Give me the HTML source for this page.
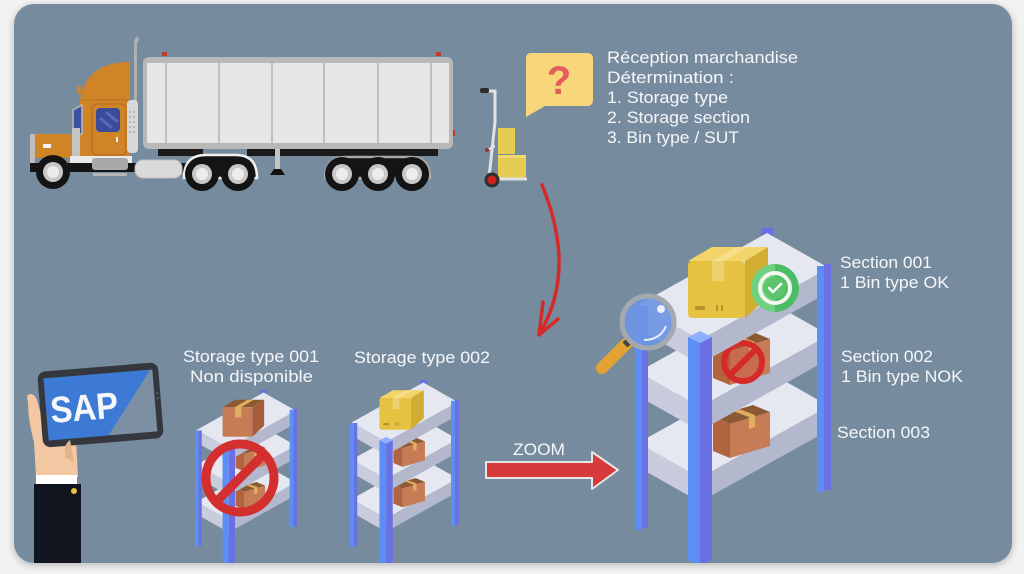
<!DOCTYPE html>
<html><head><meta charset="utf-8"><style>
html,body{margin:0;padding:0;background:#f2f2f2;}
svg{display:block;}
text{font-family:"Liberation Sans",sans-serif;fill:#f5f7f9;}
</style></head><body>
<svg width="1024" height="574" viewBox="0 0 1024 574" xmlns="http://www.w3.org/2000/svg">
<defs>
  <filter id="sh" x="-5%" y="-5%" width="110%" height="110%"><feGaussianBlur stdDeviation="4"/></filter>
  <clipPath id="pc"><rect x="14" y="4" width="998" height="559" rx="20"/></clipPath>
  <!-- shelf levels (big coords) -->
  <g id="s1">
    <polygon points="638,305 700,340 829,268 767,233" fill="#e6e8f1"/>
    <polygon points="638,305 700,340 700,364 638,329" fill="#c9ccdd"/>
    <polygon points="700,340 829,268 829,292 700,364" fill="#b4b8cd"/>
  </g>
  <g id="s2">
    <polygon points="638,372 700,407 829,335 767,300" fill="#e6e8f1"/>
    <polygon points="638,372 700,407 700,431 638,396" fill="#c9ccdd"/>
    <polygon points="700,407 829,335 829,359 700,431" fill="#b4b8cd"/>
  </g>
  <g id="s3">
    <polygon points="638,443 700,478 829,406 767,371" fill="#e6e8f1"/>
    <polygon points="638,443 700,478 700,502 638,467" fill="#c9ccdd"/>
    <polygon points="700,478 829,406 829,430 700,502" fill="#b4b8cd"/>
  </g>
  <g id="backpost"><rect x="761" y="228" width="12" height="12" fill="#6a6fe2"/></g>
  <g id="sideposts">
    <rect x="635" y="306" width="7" height="224" fill="#5b8ff7"/>
    <rect x="642" y="306" width="6" height="222" fill="#6a6fe2"/>
    <rect x="817" y="266" width="7" height="226" fill="#5b8ff7"/>
    <rect x="824" y="264" width="7" height="226" fill="#6a6fe2"/>
  </g>
  <g id="frontpost">
    <polygon points="688,337 700,343 700,566 688,560" fill="#5b8ff7"/>
    <polygon points="700,343 712,337 712,560 700,566" fill="#6a6fe2"/>
    <polygon points="688,337 700,331 712,337 700,343" fill="#8fb0ff"/>
  </g>
  <!-- brown box local 57x53 -->
  <g id="bb">
    <polygon points="0,12 40,0 57,7 17,19" fill="#8b5a34"/>
    <polygon points="0,12 17,19 17,53 0,46" fill="#b0643f"/>
    <polygon points="17,19 57,7 57,41 17,53" fill="#c67c55"/>
    <polygon points="20,6 26,4 42,10 36,12" fill="#e0b060"/>
    <polygon points="36,12 42,10 42,22 36,24" fill="#e0b060"/>
  </g>
  <!-- yellow top box local 80x71 -->
  <g id="yb">
    <polygon points="0,14 24,0 80,0 57,14" fill="#f2d468"/>
    <rect x="0" y="14" width="57" height="57" rx="4" fill="#e6c242"/>
    <polygon points="57,14 80,0 80,50 57,71" fill="#d3ad33"/>
    <polygon points="24,14 36,14 60,0 48,0" fill="#f6df88"/>
    <rect x="24" y="14" width="12" height="20" fill="#edd070"/>
    <rect x="7" y="59" width="10" height="4" fill="#b89228"/>
    <rect x="28" y="58" width="2" height="6" fill="#b89228"/>
    <rect x="33" y="58" width="2" height="6" fill="#b89228"/>
  </g>
  <g id="brtop">
    <polygon points="0,14 24,0 80,0 57,14" fill="#8b5a34"/>
    <rect x="0" y="14" width="57" height="57" rx="3" fill="#c67c55"/>
    <polygon points="57,14 80,0 80,50 57,71" fill="#a85d3c"/>
    <polygon points="24,14 36,14 60,0 48,0" fill="#e0b060"/>
    <rect x="24" y="14" width="12" height="20" fill="#e0b060"/>
  </g>
</defs>

<!-- panel -->
<rect x="14" y="6" width="998" height="559" rx="20" fill="#000" opacity="0.25" filter="url(#sh)"/>
<rect x="14" y="4" width="998" height="559" rx="20" fill="#778b9f"/>

<g clip-path="url(#pc)">
<!-- ===== TRUCK ===== -->
<!-- trailer -->
<rect x="162" y="52" width="5" height="4" fill="#c0392b"/>
<rect x="436" y="52" width="5" height="4" fill="#c0392b"/>
<rect x="453" y="130" width="2" height="6" fill="#c0392b"/>
<rect x="143" y="57" width="310" height="92" rx="6" fill="#b8b8b8"/>
<rect x="147" y="63" width="302" height="80" fill="#e7e7e7"/>
<g stroke="#b3b3b3" stroke-width="1.5">
  <line x1="166" y1="63" x2="166" y2="143"/><line x1="219" y1="63" x2="219" y2="143"/>
  <line x1="272" y1="63" x2="272" y2="143"/><line x1="324" y1="63" x2="324" y2="143"/>
  <line x1="378" y1="63" x2="378" y2="143"/><line x1="431" y1="63" x2="431" y2="143"/>
</g>
<rect x="158" y="149" width="45" height="7" fill="#1a1a1a"/>
<rect x="247" y="149" width="191" height="7" fill="#1a1a1a"/>
<rect x="275" y="149" width="5" height="21" fill="#c4c4c4"/>
<polygon points="270,175 285,175 281,169 274,169" fill="#111"/>
<!-- tractor -->
<path d="M134,150 L134,44 Q134,38 138,36 L139,40 Q137,42 137,46 L137,150 Z" fill="#b0b0b0"/>
<path d="M80,156 L80,100 Q86,62 130,62 L130,156 Z" fill="#d08428"/>
<line x1="80" y1="100" x2="130" y2="100" stroke="#b86f1e" stroke-width="1"/>
<rect x="77" y="86" width="4" height="8" fill="#d08428"/>
<polygon points="73,110 82,105 82,134 73,134" fill="#3c4fa0" stroke="#b8b8b8" stroke-width="1.5"/>
<rect x="92" y="104" width="34" height="51" rx="5" fill="#d08428" stroke="#b06a1c" stroke-width="1"/>
<rect x="96" y="108" width="24" height="24" rx="4" fill="#3c4a9c"/>
<line x1="100" y1="118" x2="112" y2="128" stroke="#5b6ab8" stroke-width="3"/>
<line x1="106" y1="112" x2="118" y2="122" stroke="#5b6ab8" stroke-width="3"/>
<rect x="116" y="137" width="2" height="5" fill="#f0f0f0"/>
<rect x="35" y="134" width="42" height="24" fill="#d08428"/>
<rect x="43" y="144" width="8" height="4" fill="#f3f3f3"/>
<rect x="72" y="128" width="8" height="30" fill="#c4c4c4"/>
<rect x="30" y="134" width="5" height="36" fill="#bdbdbd"/>
<rect x="70" y="156" width="62" height="16" fill="#e9e9e9"/>
<rect x="30" y="163" width="172" height="9" fill="#151515"/>
<rect x="92" y="158" width="36" height="12" rx="3" fill="#a9a9a9"/>
<rect x="93" y="173" width="34" height="3" fill="#b5b5b5"/>
<rect x="127" y="100" width="11" height="53" rx="4" fill="#d8d8d8"/>
<g fill="#9e9e9e">
  <circle cx="130" cy="112" r="0.9"/><circle cx="134" cy="112" r="0.9"/><circle cx="130" cy="117" r="0.9"/><circle cx="134" cy="117" r="0.9"/>
  <circle cx="130" cy="122" r="0.9"/><circle cx="134" cy="122" r="0.9"/><circle cx="130" cy="127" r="0.9"/><circle cx="134" cy="127" r="0.9"/>
  <circle cx="130" cy="132" r="0.9"/><circle cx="134" cy="132" r="0.9"/>
</g>
<rect x="135" y="160" width="47" height="18" rx="8" fill="#dadada" stroke="#bdbdbd" stroke-width="1"/>
<!-- fenders -->
<path d="M184,178 Q184,155 206,155 L236,155 Q257,155 257,178 Z" fill="#151515" stroke="#f0f0f0" stroke-width="2.5"/>
<path d="M325,178 Q325,157 346,157 L410,157 Q430,157 430,178 Z" fill="#151515" stroke="#a8a8a8" stroke-width="2.5"/>
<!-- wheels -->
<g>
  <circle cx="53" cy="172" r="17" fill="#141414"/><circle cx="53" cy="172" r="10" fill="#c8c8c8"/><circle cx="53" cy="172" r="6" fill="#ececec"/>
  <circle cx="202" cy="174" r="17" fill="#141414"/><circle cx="202" cy="174" r="10" fill="#c8c8c8"/><circle cx="202" cy="174" r="6" fill="#ececec"/>
  <circle cx="238" cy="174" r="17" fill="#141414"/><circle cx="238" cy="174" r="10" fill="#c8c8c8"/><circle cx="238" cy="174" r="6" fill="#ececec"/>
  <circle cx="342" cy="174" r="17" fill="#141414"/><circle cx="342" cy="174" r="10" fill="#c8c8c8"/><circle cx="342" cy="174" r="6" fill="#ececec"/>
  <circle cx="378" cy="174" r="17" fill="#141414"/><circle cx="378" cy="174" r="10" fill="#c8c8c8"/><circle cx="378" cy="174" r="6" fill="#ececec"/>
  <circle cx="412" cy="174" r="17" fill="#141414"/><circle cx="412" cy="174" r="10" fill="#c8c8c8"/><circle cx="412" cy="174" r="6" fill="#ececec"/>
</g>

<!-- ===== HAND TRUCK ===== -->
<path d="M487,91 L495,91 L495,122 L489,178" fill="none" stroke="#e2e2e2" stroke-width="3" stroke-linejoin="round"/>
<rect x="480" y="88" width="9" height="5" rx="2" fill="#2e2e2e"/>
<line x1="495" y1="146" x2="487" y2="150" stroke="#e2e2e2" stroke-width="2"/>
<circle cx="487" cy="150" r="2" fill="#9a3030"/>
<rect x="498" y="128" width="17" height="26" fill="#e6cb52"/>
<rect x="498" y="155" width="28" height="23" fill="#e6cb52"/>
<rect x="498" y="155" width="28" height="3" fill="#f0d870"/>
<line x1="489" y1="179" x2="527" y2="179" stroke="#e2e2e2" stroke-width="3"/>
<circle cx="492" cy="180" r="6" fill="#d42020" stroke="#2e2e2e" stroke-width="3"/>

<!-- ===== SPEECH BUBBLE ===== -->
<path d="M531,53 H587 Q593,53 593,59 V100 Q593,106 587,106 H545 L526,117 V59 Q526,53 531,53 Z" fill="#f8d77a"/>
<text x="559" y="94" text-anchor="middle" font-size="40" font-weight="bold" style="fill:#e35d5d">?</text>

<!-- top right text -->
<g font-size="17">
  <text x="607" y="63" textLength="191" lengthAdjust="spacingAndGlyphs">Réception marchandise</text>
  <text x="607" y="83" textLength="127" lengthAdjust="spacingAndGlyphs">Détermination :</text>
  <text x="607" y="103" textLength="121" lengthAdjust="spacingAndGlyphs">1. Storage type</text>
  <text x="607" y="123" textLength="143" lengthAdjust="spacingAndGlyphs">2. Storage section</text>
  <text x="607" y="143" textLength="132" lengthAdjust="spacingAndGlyphs">3. Bin type / SUT</text>
</g>

<!-- curved red arrow -->
<path d="M542,185 Q577,270 540,333" fill="none" stroke="#d42a2a" stroke-width="3.5" stroke-linecap="round"/>
<path d="M543,302 L539,335 L558,319" fill="none" stroke="#d42a2a" stroke-width="3.5" stroke-linecap="round" stroke-linejoin="round"/>

<!-- ===== TABLET + HAND ===== -->
<path d="M28,402 Q25,394 31,394 Q37,395 39,408 L46,428 L76,440 L78,477 L36,477 L34,442 Q28,420 28,402 Z" fill="#f2c7a1"/>
<g transform="rotate(-4.7 100 405)">
  <rect x="40" y="367" width="121" height="76" rx="8" fill="#34383e"/>
  <rect x="46" y="374" width="109" height="62" fill="#7d8fa3"/>
  <polygon points="46,374 153,374 106,436 46,436" fill="#3c7ad6"/>
  <text x="50" y="419" font-size="37" font-weight="bold" textLength="68" lengthAdjust="spacingAndGlyphs">SAP</text>
  <circle cx="158" cy="398" r="0.8" fill="#777"/><circle cx="158" cy="403" r="0.8" fill="#777"/>
</g>
<path d="M70,440 Q62,446 66,458 L74,462 Z" fill="#e3b48c"/>
<rect x="36" y="475" width="41" height="9" fill="#ffffff"/>
<rect x="34" y="484" width="47" height="82" fill="#10151f"/>
<circle cx="74" cy="491" r="3" fill="#e8c23a"/>

<!-- labels -->
<g font-size="17">
  <text x="183" y="362" textLength="136" lengthAdjust="spacingAndGlyphs">Storage type 001</text>
  <text x="190" y="382" textLength="123" lengthAdjust="spacingAndGlyphs">Non disponible</text>
  <text x="354" y="363" textLength="136" lengthAdjust="spacingAndGlyphs">Storage type 002</text>
  <text x="513" y="455" textLength="52" lengthAdjust="spacingAndGlyphs">ZOOM</text>
  <text x="840" y="268" textLength="92" lengthAdjust="spacingAndGlyphs">Section 001</text>
  <text x="840" y="288" textLength="109" lengthAdjust="spacingAndGlyphs">1 Bin type OK</text>
  <text x="841" y="362" textLength="92" lengthAdjust="spacingAndGlyphs">Section 002</text>
  <text x="841" y="382" textLength="122" lengthAdjust="spacingAndGlyphs">1 Bin type NOK</text>
  <text x="837" y="438" textLength="93" lengthAdjust="spacingAndGlyphs">Section 003</text>
</g>

<!-- ===== SMALL SHELF 1 ===== -->
<g transform="matrix(0.52,0,0,0.52,-135.2,271.36)">
  <use href="#backpost"/>
  <use href="#s3"/><use href="#bb" transform="translate(713,405)"/>
  <use href="#s2"/><use href="#bb" transform="translate(713,332)"/>
  <use href="#s1"/><use href="#brtop" transform="translate(688,247)"/>
  <use href="#sideposts"/><use href="#frontpost"/>
</g>
<circle cx="240" cy="478" r="34" fill="none" stroke="#d42f2f" stroke-width="9"/>
<line x1="217" y1="501" x2="263" y2="455" stroke="#d42f2f" stroke-width="9"/>

<!-- ===== SMALL SHELF 2 ===== -->
<g transform="matrix(0.555,0,0,0.555,-2.4,253.2)">
  <use href="#backpost"/>
  <use href="#s3"/><use href="#bb" transform="translate(713,405)"/>
  <use href="#s2"/><use href="#bb" transform="translate(713,332)"/>
  <use href="#s1"/><use href="#yb" transform="translate(688,247)"/>
  <use href="#sideposts"/><use href="#frontpost"/>
</g>

<!-- ZOOM arrow -->
<polygon points="486,462 592,462 592,452 618,470 592,489 592,478 486,478" fill="#d63a3a" stroke="#e6e6e6" stroke-width="2" stroke-linejoin="round"/>

<!-- ===== BIG SHELF ===== -->
<use href="#backpost"/>
<use href="#s3"/><use href="#bb" transform="translate(713,405)"/>
<use href="#s2"/><use href="#bb" transform="translate(713,332)"/>
<circle cx="743" cy="362" r="19" fill="rgba(210,60,60,0.25)" stroke="#d42a2a" stroke-width="6"/>
<line x1="730" y1="375" x2="756" y2="349" stroke="#d42a2a" stroke-width="6"/>
<use href="#s1"/><use href="#yb" transform="translate(688,247)"/>
<use href="#sideposts"/><use href="#frontpost"/>
<!-- badge -->
<circle cx="775" cy="288" r="24" fill="#4dbd65"/>
<path d="M775,264 A24,24 0 0,0 775,312 Z" fill="#6fd07f"/>
<circle cx="775" cy="288" r="15" fill="none" stroke="#f2f7ef" stroke-width="4"/>
<circle cx="775" cy="288" r="11" fill="#5cc46b"/>
<path d="M769,288 L773,292 L781,284" fill="none" stroke="#ffffff" stroke-width="2.5" stroke-linecap="round" stroke-linejoin="round"/>
<!-- magnifier -->
<line x1="626" y1="344" x2="602" y2="368" stroke="#e2a232" stroke-width="12" stroke-linecap="round"/>
<line x1="630" y1="340" x2="625" y2="345" stroke="#444" stroke-width="7"/>
<circle cx="648" cy="322" r="26" fill="#6d95e3" fill-opacity="0.9" stroke="#a4a9b0" stroke-width="5"/>
<circle cx="661" cy="309" r="4" fill="#e8f0ff"/>
<path d="M644,340 Q660,340 666,326" fill="none" stroke="#e8f0ff" stroke-width="2"/>
</g>
</svg>
</body></html>
